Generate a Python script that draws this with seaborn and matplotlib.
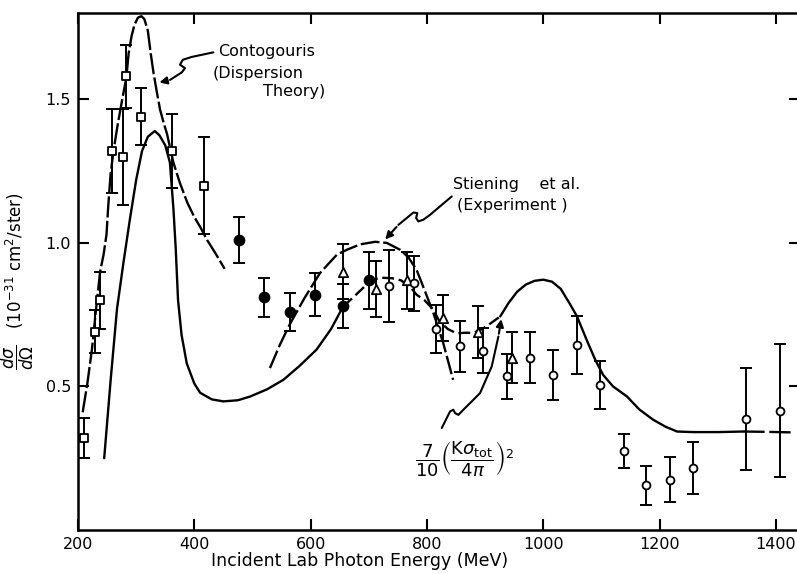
import pandas as pd
import matplotlib.pyplot as plt
import seaborn as sns

# ---- data ----
# open squares
sq_e = [210, 229, 238, 259, 278, 283, 308, 362, 417]
sq_y = [0.32, 0.69, 0.80, 1.32, 1.30, 1.58, 1.44, 1.32, 1.20]
sq_err = [0.07, 0.075, 0.10, 0.147, 0.168, 0.11, 0.10, 0.13, 0.168]

# filled circles
fc_e = [477, 519, 565, 608, 655, 701]
fc_y = [1.01, 0.81, 0.76, 0.82, 0.78, 0.87]
fc_err = [0.08, 0.068, 0.067, 0.075, 0.077, 0.10]

# open triangles
tr_e = [655, 712, 766, 827, 887, 947]
tr_y = [0.90, 0.84, 0.87, 0.74, 0.69, 0.60]
tr_err = [0.095, 0.097, 0.10, 0.08, 0.09, 0.088]

# open circles
oc_e = [735, 778, 816, 857, 897, 937, 977, 1017, 1058, 1097,
        1138, 1176, 1218, 1257, 1349, 1407]
oc_y = [0.85, 0.86, 0.70, 0.64, 0.625, 0.535, 0.60, 0.54, 0.645, 0.505,
        0.276, 0.155, 0.175, 0.216, 0.386, 0.416]
oc_err = [0.127, 0.096, 0.083, 0.088, 0.079, 0.078, 0.088, 0.087, 0.10, 0.085,
          0.059, 0.069, 0.079, 0.089, 0.177, 0.233]

# Contogouris (dispersion theory), first branch
ct_e = [208, 216, 224, 231, 238, 244, 249, 252, 256, 261, 268, 276, 283, 287,
        292, 297, 303, 309, 314, 320, 325, 330, 336, 341, 347, 353, 364, 375,
        388, 400, 410, 422, 436, 452]
ct_y = [0.41, 0.51, 0.63, 0.77, 0.90, 0.96, 1.03, 1.13, 1.24, 1.32, 1.41, 1.50,
        1.575, 1.66, 1.72, 1.76, 1.785, 1.79, 1.78, 1.74, 1.66, 1.59, 1.52,
        1.465, 1.42, 1.38, 1.28, 1.21, 1.14, 1.09, 1.056, 1.01, 0.965, 0.91]

# Stiening et al. (experiment)
st_e = [530, 547, 565, 590, 616, 645, 662, 685, 711, 731, 754, 768, 782, 795,
        811, 828, 845]
st_y = [0.564, 0.645, 0.72, 0.81, 0.895, 0.959, 0.976, 0.995, 1.004, 1.0,
        0.976, 0.95, 0.907, 0.84, 0.756, 0.651, 0.523]

# 7/10 (K sigma_tot / 4 pi)^2, solid pieces and dashed pieces
th1_e = [245, 256, 267, 278, 289, 300, 310, 320, 332, 340, 350, 358, 364, 368,
         372, 378, 387, 400, 410, 430, 450, 475, 496, 525, 553, 580, 610, 635,
         656]
th1_y = [0.25, 0.52, 0.77, 0.93, 1.08, 1.22, 1.32, 1.37, 1.39, 1.375, 1.34,
         1.28, 1.12, 0.98, 0.80, 0.68, 0.58, 0.51, 0.478, 0.455, 0.448, 0.452,
         0.465, 0.49, 0.523, 0.57, 0.628, 0.70, 0.779]
th2_e = [656, 673, 690, 705, 720, 740, 755, 770, 782, 796, 810, 822, 836, 851,
         865, 880, 895, 906, 926]
th2_y = [0.779, 0.81, 0.843, 0.87, 0.879, 0.877, 0.87, 0.85, 0.82, 0.80, 0.77,
         0.725, 0.70, 0.685, 0.687, 0.687, 0.70, 0.715, 0.744]
th3_e = [926, 940, 955, 970, 985, 1000, 1015, 1030, 1045, 1058, 1075, 1090,
         1103, 1120, 1144, 1165, 1189, 1210, 1230, 1258, 1300, 1344]
th3_y = [0.744, 0.79, 0.83, 0.855, 0.868, 0.872, 0.865, 0.84, 0.79, 0.744,
         0.66, 0.59, 0.54, 0.50, 0.465, 0.42, 0.384, 0.36, 0.343, 0.341, 0.341,
         0.343]
th4_e = [1344, 1380, 1428]
th4_y = [0.343, 0.342, 0.340]

x_ticks = [200, 400, 600, 800, 1000, 1200, 1400]
y_ticks = [0.5, 1.0, 1.5]
y_ticklabels = ['0.5', '1.0', '1.5']

sns.set_style('ticks')
plt.rcParams['font.family'] = ['DejaVu Sans']
plt.rcParams['mathtext.fontset'] = 'dejavusans'
for key in ['text.color', 'axes.labelcolor', 'xtick.color', 'ytick.color',
            'axes.edgecolor']:
    plt.rcParams[key] = 'black'

fig = plt.figure(figsize=(7.97, 5.74), dpi=100)
ax = fig.add_axes([0.0979, 0.0767, 0.906, 0.9001])

lw = 1.7


def curve(e, y, ls):
    d = pd.DataFrame({'E': e, 'y': y})
    sns.lineplot(data=d, x='E', y='y', ax=ax, sort=False, estimator=None,
                 color='black', linewidth=lw, linestyle=ls)


curve(ct_e, ct_y, (0, (9, 1.4)))
curve(st_e, st_y, (0, (8, 1.6)))
curve(th1_e, th1_y, '-')
curve(th2_e, th2_y, (0, (5, 2)))
curve(th3_e, th3_y, '-')
curve(th4_e, th4_y, (0, (9, 2)))

# error bars
for e, y, err in [(sq_e, sq_y, sq_err), (fc_e, fc_y, fc_err),
                  (tr_e, tr_y, tr_err), (oc_e, oc_y, oc_err)]:
    ax.errorbar(e, y, yerr=err, fmt='none', ecolor='black', elinewidth=1.4,
                capsize=4, capthick=1.4, zorder=3)

# markers
sns.scatterplot(x=sq_e, y=sq_y, ax=ax, marker='s', s=30, facecolor='white',
                edgecolor='black', linewidth=1.3, zorder=5)
sns.scatterplot(x=fc_e, y=fc_y, ax=ax, marker='o', s=55, facecolor='black',
                edgecolor='black', linewidth=1.0, zorder=5)
sns.scatterplot(x=tr_e, y=tr_y, ax=ax, marker='^', s=45, facecolor='white',
                edgecolor='black', linewidth=1.3, zorder=5)
sns.scatterplot(x=oc_e, y=oc_y, ax=ax, marker='o', s=32, facecolor='white',
                edgecolor='black', linewidth=1.3, zorder=5)

# annotations with squiggly pointers
fs = 11.5
ax.text(440.8, 1.666, 'Contogouris', fontsize=fs, va='center', ha='left')
ax.text(431.6, 1.590, '(Dispersion', fontsize=fs, va='center', ha='left')
ax.text(518.1, 1.527, 'Theory)', fontsize=fs, va='center', ha='left')
ax.plot([432.7, 395.5, 380.0, 375.4, 384.0, 378.3, 358.2],
        [1.664, 1.648, 1.638, 1.621, 1.609, 1.594, 1.568], color='black', lw=1.5)
ax.annotate('', xy=(335.3, 1.557), xytext=(358.2, 1.568),
            arrowprops=dict(arrowstyle='-|>', color='black', lw=1.5, mutation_scale=11))

ax.text(845.3, 1.203, 'Stiening    et al.', fontsize=fs, va='center', ha='left')
ax.text(852.2, 1.130, '(Experiment )', fontsize=fs, va='center', ha='left')
ax.plot([842.6, 805.3, 793.8, 785.2, 781.3, 783.5, 776.6, 765.3, 750.8],
        [1.162, 1.098, 1.081, 1.075, 1.087, 1.104, 1.106, 1.087, 1.063],
        color='black', lw=1.5)
ax.annotate('', xy=(725.0, 1.005), xytext=(750.8, 1.063),
            arrowprops=dict(arrowstyle='-|>', color='black', lw=1.5, mutation_scale=11))

ax.text(864, 0.250, r'$\dfrac{7}{10}\left(\dfrac{\mathrm{K}\sigma_{\mathrm{tot}}}{4\pi}\right)^2$',
        fontsize=13, va='center', ha='center')
ax.plot([825.4, 839.7, 845.4, 848.3, 854.0, 862.6, 877.0, 891.3, 911.4, 922.8],
        [0.355, 0.413, 0.419, 0.407, 0.401, 0.419, 0.448, 0.477, 0.570, 0.674],
        color='black', lw=1.5)
ax.annotate('', xy=(928.6, 0.744), xytext=(922.8, 0.674),
            arrowprops=dict(arrowstyle='-|>', color='black', lw=1.5, mutation_scale=11))

# axes
ax.set_xlim(200, 1441.6)
ax.set_ylim(0, 1.8)
ax.set_xticks(x_ticks)
ax.set_yticks(y_ticks)
ax.set_yticklabels(y_ticklabels)
ax.tick_params(direction='in', length=8, width=1.5, top=True, right=True,
               labelsize=11.5, pad=5)
for sp in ax.spines.values():
    sp.set_linewidth(1.8)
    sp.set_visible(True)

ax.set_xlabel('Incident Lab Photon Energy (MeV)', fontsize=12.5)
ax.xaxis.set_label_coords(0.39, -0.043)
ax.set_ylabel(r'$\dfrac{d\sigma}{d\Omega}$   (10$^{-31}$ cm$^2$/ster)', fontsize=12)
ax.yaxis.set_label_coords(-0.058, 0.482)

fig.savefig('out.png', dpi=100)
